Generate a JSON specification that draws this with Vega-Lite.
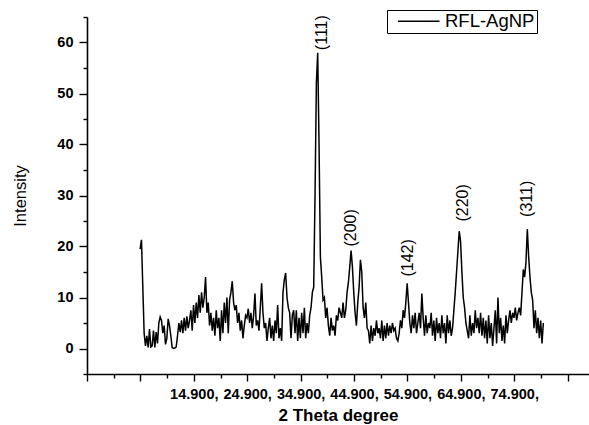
{
  "$schema": "https://vega.github.io/schema/vega-lite/v6.json",
  "width": 502,
  "height": 357,
  "autosize": {"type": "none"},
  "padding": {"left": 87, "top": 17, "right": 0, "bottom": 51},
  "background": "white",
  "config": {
    "view": {"stroke": null},
    "font": "Liberation Sans",
    "axis": {"grid": false, "domainColor": "black", "tickColor": "black", "domainWidth": 1.6, "tickWidth": 1.4, "labelColor": "black", "titleColor": "black", "labelFont": "Liberation Sans", "titleFont": "Liberation Sans"}
  },
  "resolve": {"axis": {"x": "independent", "y": "independent"}},
  "datasets": {
    "xrd": [
      {"t":4.85,"i":19.5},{"t":5.1,"i":21.3},{"t":5.35,"i":12},{"t":5.6,"i":3},{"t":5.85,"i":0.5},{"t":6.1,"i":2.5},{"t":6.35,"i":0.2},{"t":6.6,"i":3.8},{"t":6.85,"i":0.3},{"t":7.1,"i":0.5},{"t":7.35,"i":3.5},{"t":7.6,"i":0.2},{"t":7.85,"i":3.2},{"t":8.1,"i":1},{"t":8.35,"i":5},{"t":8.6,"i":6.2},{"t":8.85,"i":5.5},{"t":9.1,"i":3},{"t":9.35,"i":4.5},{"t":9.6,"i":0.8},{"t":9.85,"i":2},{"t":10.1,"i":5.8},{"t":10.35,"i":4.5},{"t":10.6,"i":2.5},{"t":10.85,"i":0.2},{"t":11.1,"i":0},{"t":11.35,"i":0.1},{"t":11.6,"i":0.3},{"t":11.85,"i":2.5},{"t":12.1,"i":5},{"t":12.35,"i":3.2},{"t":12.6,"i":5.5},{"t":12.85,"i":3},{"t":13.1,"i":6},{"t":13.35,"i":3.5},{"t":13.6,"i":6.3},{"t":13.85,"i":4},{"t":14.1,"i":5.5},{"t":14.35,"i":7.5},{"t":14.6,"i":3.5},{"t":14.85,"i":8.5},{"t":15.1,"i":5},{"t":15.35,"i":9},{"t":15.6,"i":6},{"t":15.85,"i":10.5},{"t":16.1,"i":7},{"t":16.35,"i":11},{"t":16.6,"i":8},{"t":16.85,"i":10},{"t":17.1,"i":14},{"t":17.35,"i":7},{"t":17.6,"i":9},{"t":17.85,"i":4.5},{"t":18.1,"i":7},{"t":18.35,"i":3.5},{"t":18.6,"i":6},{"t":18.85,"i":2.5},{"t":19.1,"i":7.5},{"t":19.35,"i":4},{"t":19.6,"i":6},{"t":19.85,"i":1.5},{"t":20.1,"i":7.5},{"t":20.35,"i":3},{"t":20.6,"i":9},{"t":20.85,"i":5},{"t":21.1,"i":10},{"t":21.35,"i":3},{"t":21.6,"i":9.5},{"t":21.85,"i":11},{"t":22.1,"i":13.2},{"t":22.35,"i":9},{"t":22.6,"i":7.5},{"t":22.85,"i":8.5},{"t":23.1,"i":5},{"t":23.35,"i":7},{"t":23.6,"i":3.5},{"t":23.85,"i":5.5},{"t":24.1,"i":2},{"t":24.35,"i":4.5},{"t":24.6,"i":6.5},{"t":24.85,"i":6},{"t":25.1,"i":7.8},{"t":25.35,"i":5},{"t":25.6,"i":7},{"t":25.85,"i":4},{"t":26.1,"i":6.5},{"t":26.35,"i":10.8},{"t":26.6,"i":4.5},{"t":26.85,"i":5.5},{"t":27.1,"i":3.5},{"t":27.35,"i":8},{"t":27.6,"i":12.8},{"t":27.85,"i":7},{"t":28.1,"i":4},{"t":28.35,"i":5},{"t":28.6,"i":1.5},{"t":28.85,"i":4},{"t":29.1,"i":6},{"t":29.35,"i":2},{"t":29.6,"i":4.5},{"t":29.85,"i":1.5},{"t":30.1,"i":5.5},{"t":30.35,"i":3},{"t":30.6,"i":8.5},{"t":30.85,"i":2},{"t":31.1,"i":4},{"t":31.35,"i":1.5},{"t":31.6,"i":11},{"t":31.85,"i":13.5},{"t":32.1,"i":14.8},{"t":32.35,"i":10},{"t":32.6,"i":8},{"t":32.85,"i":7},{"t":33.1,"i":2},{"t":33.35,"i":6.5},{"t":33.6,"i":7.5},{"t":33.85,"i":3},{"t":34.1,"i":7.5},{"t":34.35,"i":1.5},{"t":34.6,"i":6},{"t":34.85,"i":2},{"t":35.1,"i":7},{"t":35.35,"i":3},{"t":35.6,"i":8},{"t":35.85,"i":2},{"t":36.1,"i":5},{"t":36.35,"i":3},{"t":36.6,"i":6.5},{"t":36.85,"i":8},{"t":37.1,"i":11},{"t":37.35,"i":12},{"t":37.6,"i":30},{"t":37.85,"i":52},{"t":38.1,"i":58},{"t":38.35,"i":40},{"t":38.6,"i":18},{"t":38.85,"i":14},{"t":39.1,"i":9.5},{"t":39.35,"i":10},{"t":39.6,"i":6},{"t":39.85,"i":8},{"t":40.1,"i":4.5},{"t":40.35,"i":2.5},{"t":40.6,"i":6},{"t":40.85,"i":3.5},{"t":41.1,"i":4.5},{"t":41.35,"i":2.5},{"t":41.6,"i":6.5},{"t":41.85,"i":5.5},{"t":42.1,"i":8},{"t":42.35,"i":7},{"t":42.6,"i":6},{"t":42.85,"i":9},{"t":43.1,"i":6},{"t":43.35,"i":7.5},{"t":43.6,"i":11},{"t":43.85,"i":13},{"t":44.1,"i":16},{"t":44.35,"i":19.2},{"t":44.6,"i":16},{"t":44.85,"i":11},{"t":45.1,"i":7},{"t":45.35,"i":4.5},{"t":45.6,"i":9},{"t":45.85,"i":12},{"t":46.1,"i":17.4},{"t":46.35,"i":15},{"t":46.6,"i":8},{"t":46.85,"i":6},{"t":47.1,"i":9},{"t":47.35,"i":4},{"t":47.6,"i":3.5},{"t":47.85,"i":1},{"t":48.1,"i":4.5},{"t":48.35,"i":1.5},{"t":48.6,"i":4},{"t":48.85,"i":2.5},{"t":49.1,"i":5.5},{"t":49.35,"i":3},{"t":49.6,"i":4},{"t":49.85,"i":2},{"t":50.1,"i":5.5},{"t":50.35,"i":1.5},{"t":50.6,"i":4.5},{"t":50.85,"i":2},{"t":51.1,"i":5},{"t":51.35,"i":2.5},{"t":51.6,"i":4.5},{"t":51.85,"i":3},{"t":52.1,"i":5},{"t":52.35,"i":3.5},{"t":52.6,"i":4},{"t":52.85,"i":2},{"t":53.1,"i":1.5},{"t":53.35,"i":3},{"t":53.6,"i":5.5},{"t":53.85,"i":4},{"t":54.1,"i":7.5},{"t":54.35,"i":6},{"t":54.6,"i":9},{"t":54.85,"i":12.8},{"t":55.1,"i":9},{"t":55.35,"i":5},{"t":55.6,"i":3},{"t":55.85,"i":6.5},{"t":56.1,"i":4},{"t":56.35,"i":7},{"t":56.6,"i":3},{"t":56.85,"i":5},{"t":57.1,"i":7},{"t":57.35,"i":4},{"t":57.6,"i":10.8},{"t":57.85,"i":6},{"t":58.1,"i":2.5},{"t":58.35,"i":6.5},{"t":58.6,"i":3},{"t":58.85,"i":5},{"t":59.1,"i":4},{"t":59.35,"i":7},{"t":59.6,"i":2.5},{"t":59.85,"i":5.5},{"t":60.1,"i":1.5},{"t":60.35,"i":6},{"t":60.6,"i":3},{"t":60.85,"i":5},{"t":61.1,"i":2},{"t":61.35,"i":6.5},{"t":61.6,"i":3},{"t":61.85,"i":5},{"t":62.1,"i":1},{"t":62.35,"i":6.5},{"t":62.6,"i":3},{"t":62.85,"i":5.5},{"t":63.1,"i":2.5},{"t":63.35,"i":4},{"t":63.6,"i":7.5},{"t":63.85,"i":11},{"t":64.1,"i":15},{"t":64.35,"i":19},{"t":64.6,"i":23},{"t":64.85,"i":21},{"t":65.1,"i":15},{"t":65.35,"i":10},{"t":65.6,"i":8},{"t":65.85,"i":5},{"t":66.1,"i":3.5},{"t":66.35,"i":2},{"t":66.6,"i":6.5},{"t":66.85,"i":2.5},{"t":67.1,"i":5},{"t":67.35,"i":3},{"t":67.6,"i":7.5},{"t":67.85,"i":4},{"t":68.1,"i":6},{"t":68.35,"i":3},{"t":68.6,"i":7},{"t":68.85,"i":2.5},{"t":69.1,"i":6},{"t":69.35,"i":2},{"t":69.6,"i":5.5},{"t":69.85,"i":1},{"t":70.1,"i":6.5},{"t":70.35,"i":2},{"t":70.6,"i":5},{"t":70.85,"i":0.5},{"t":71.1,"i":4},{"t":71.35,"i":7.5},{"t":71.6,"i":1},{"t":71.85,"i":10},{"t":72.1,"i":3},{"t":72.35,"i":6},{"t":72.6,"i":1.5},{"t":72.85,"i":4.5},{"t":73.1,"i":1},{"t":73.35,"i":6.5},{"t":73.6,"i":3},{"t":73.85,"i":5.5},{"t":74.1,"i":7.5},{"t":74.35,"i":5},{"t":74.6,"i":7},{"t":74.85,"i":6},{"t":75.1,"i":8},{"t":75.35,"i":5.5},{"t":75.6,"i":7},{"t":75.85,"i":8},{"t":76.1,"i":6.5},{"t":76.35,"i":11},{"t":76.6,"i":15.5},{"t":76.85,"i":14},{"t":77.1,"i":17},{"t":77.35,"i":23.4},{"t":77.6,"i":18},{"t":77.85,"i":14},{"t":78.1,"i":11},{"t":78.35,"i":9.5},{"t":78.6,"i":4},{"t":78.85,"i":7.5},{"t":79.1,"i":3},{"t":79.35,"i":6},{"t":79.6,"i":2},{"t":79.85,"i":5.5},{"t":80.1,"i":1},{"t":80.35,"i":5}
    ],
    "peaks": [
      {"label": "(111)", "t": 38.94, "i": 58.5},
      {"label": "(200)", "t": 44.37, "i": 20},
      {"label": "(142)", "t": 55.09, "i": 14.1},
      {"label": "(220)", "t": 65.38, "i": 24.9},
      {"label": "(311)", "t": 77.35, "i": 25.8}
    ]
  },
  "layer": [
    {
      "data": {"name": "xrd"},
      "mark": {"type": "line", "strokeWidth": 1.5, "clip": false},
      "encoding": {
        "x": {
          "field": "t", "type": "quantitative",
          "scale": {"domain": [-5.1, 88.9], "nice": false, "zero": false},
          "axis": {
            "orient": "bottom",
            "values": [-5.1, 4.9, 14.9, 24.9, 34.9, 44.9, 54.9, 64.9, 74.9, 84.9],
            "labelExpr": "(datum.value > 10 && datum.value < 80) ? format(datum.value, '.3f') + ',' : ''",
            "tickSize": 7,
            "labelFontSize": 14.5,
            "labelFontWeight": "bold",
            "labelPadding": 6,
            "labelOverlap": false,
            "labelFlush": false,
            "title": "2 Theta degree",
            "titleFontSize": 17,
            "titleFontWeight": "bold",
            "titlePadding": 7
          }
        },
        "y": {
          "field": "i", "type": "quantitative",
          "scale": {"domain": [-5, 65], "nice": false, "zero": false},
          "axis": {
            "orient": "left",
            "values": [0, 10, 20, 30, 40, 50, 60],
            "tickSize": 8,
            "labelFontSize": 14.5,
            "labelFontWeight": "bold",
            "labelPadding": 6,
            "labelOverlap": false,
            "labelFlush": false,
            "title": "Intensity",
            "titleFontSize": 16.5,
            "titleFontWeight": "normal",
            "titlePadding": 28
          }
        },
        "color": {
          "datum": "RFL-AgNP",
          "scale": {"range": ["black"]},
          "legend": {
            "orient": "none",
            "legendX": 300,
            "legendY": -7,
            "title": null,
            "strokeColor": "black",
            "padding": 2,
            "symbolType": "M-2.6,0H2.6",
            "symbolSize": 256,
            "symbolOffset": 20.5,
            "symbolStrokeWidth": 1.3,
            "labelFontSize": 18.5,
            "labelColor": "black",
            "labelOffset": 17
          }
        }
      }
    },
    {
      "data": {"name": "peaks"},
      "mark": {"type": "text", "angle": 270, "align": "left", "baseline": "middle", "fontSize": 16, "color": "black"},
      "encoding": {
        "x": {
          "field": "t", "type": "quantitative",
          "axis": {
            "orient": "bottom",
            "values": [-0.1, 9.9, 19.9, 29.9, 39.9, 49.9, 59.9, 69.9, 79.9],
            "tickSize": 4,
            "labels": false,
            "domain": false,
            "title": null
          }
        },
        "y": {
          "field": "i", "type": "quantitative",
          "axis": {
            "orient": "left",
            "values": [-5, 5, 15, 25, 35, 45, 55, 65],
            "tickSize": 4,
            "labels": false,
            "domain": false,
            "title": null
          }
        },
        "text": {"field": "label"}
      }
    }
  ]
}
